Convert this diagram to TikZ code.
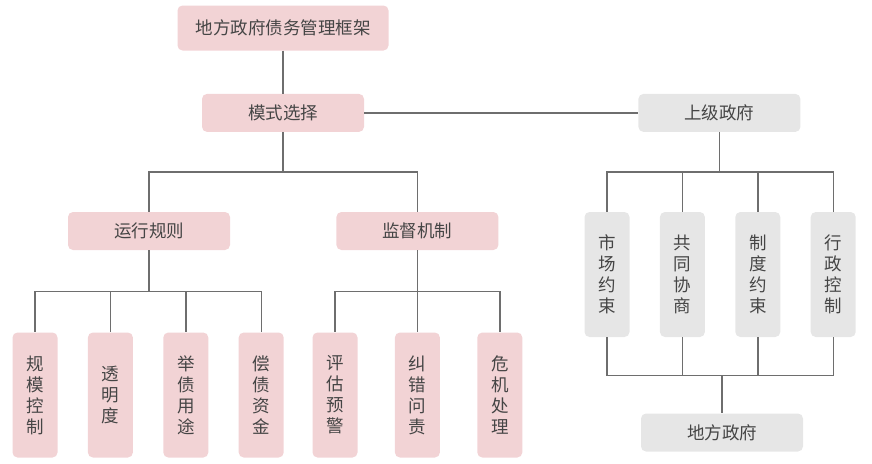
\documentclass[tikz,border=0pt]{standalone}
\usepackage{fontspec}
\setmainfont{Noto Sans CJK SC}
\usetikzlibrary{positioning, calc}
\definecolor{pinkbox}{HTML}{F2D3D5}
\definecolor{greybox}{HTML}{E6E6E6}
\definecolor{linkgrey}{HTML}{6E6E6E}
\definecolor{textgrey}{HTML}{454545}

\begin{document}
\begin{tikzpicture}[x=1pt, y=-1pt,
  box/.style={rectangle, rounded corners=5pt, minimum width=162pt, minimum height=38pt, inner sep=0pt, text=textgrey, font=\fontsize{17.5}{20}\selectfont},
  pbox/.style={box, fill=pinkbox},
  gbox/.style={box, fill=greybox},
  leaf/.style={minimum width=45pt, minimum height=125pt, align=center, font=\fontsize{17.5}{21}\selectfont},
  link/.style={draw=linkgrey, line width=1.4pt}
]
  \useasboundingbox (0,0) rectangle (872,463);

  \node[pbox, minimum width=211pt, minimum height=45pt] (frame) at (283,28) {地方政府债务管理框架};
  \node[pbox, below=43pt of frame] (mode) {模式选择};
  \node[gbox, right=274pt of mode] (upper) {上级政府};
  \node[pbox] (rules) at (149,231) {运行规则};
  \node[pbox, right=106pt of rules] (watch) {监督机制};

  \node[pbox, leaf] (scale) at (35,395) {规\\模\\控\\制};
  \node[pbox, leaf, right=30pt of scale] (transp) {透\\明\\度};
  \node[pbox, leaf, right=30pt of transp] (use) {举\\债\\用\\途};
  \node[pbox, leaf, right=30pt of use] (repay) {偿\\债\\资\\金};

  \node[pbox, leaf] (warn) at (335,395) {评\\估\\预\\警};
  \node[pbox, leaf, right=37pt of warn] (fix) {纠\\错\\问\\责};
  \node[pbox, leaf, right=37pt of fix] (crisis) {危\\机\\处\\理};

  \node[gbox, leaf] (market) at (607,274.5) {市\\场\\约\\束};
  \node[gbox, leaf, right=30pt of market] (cosign) {共\\同\\协\\商};
  \node[gbox, leaf, right=30pt of cosign] (system) {制\\度\\约\\束};
  \node[gbox, leaf, right=30pt of system] (admin) {行\\政\\控\\制};
  \node[gbox] (local) at (722,432.5) {地方政府};

  \draw[link] (frame) -- (mode);
  \draw[link] (mode) -- (upper);
  \foreach \c in {rules, watch}
    \draw[link] (mode.south) |- ($(mode.south)!.5!(\c.north)$) -| (\c.north);
  \foreach \c in {scale, transp, use, repay}
    \draw[link] (rules.south) |- ($(rules.south)!.5!(\c.north)$) -| (\c.north);
  \foreach \c in {warn, fix, crisis}
    \draw[link] (watch.south) |- ($(watch.south)!.5!(\c.north)$) -| (\c.north);
  \foreach \c in {market, cosign, system, admin} {
    \draw[link] (upper.south) |- ($(upper.south)!.5!(\c.north)$) -| (\c.north);
    \draw[link] (\c.south) |- ($(\c.south)!.5!(local.north)$) -| (local.north);
  }
\end{tikzpicture}
\end{document}
